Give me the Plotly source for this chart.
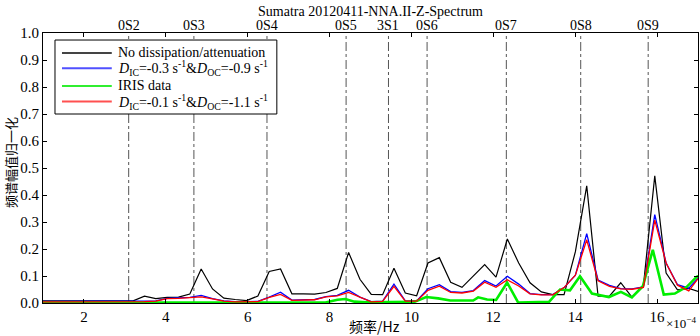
import plotly.graph_objects as go

# frequency grid of the synthetic spectra (x 1e-4 Hz)
freq = [0.986, 1.263, 1.540, 1.817, 2.094, 2.371, 2.648, 2.925, 3.202, 3.479,
        3.756, 4.033, 4.310, 4.587, 4.864, 5.141, 5.418, 5.695, 5.972, 6.249,
        6.526, 6.803, 7.080, 7.357, 7.634, 7.911, 8.188, 8.465, 8.742, 9.019,
        9.296, 9.573, 9.850, 10.127, 10.404, 10.681, 10.958, 11.235, 11.512, 11.789,
        12.066, 12.343, 12.620, 12.897, 13.174, 13.451, 13.728, 14.005, 14.282, 14.559,
        14.836, 15.113, 15.390, 15.667, 15.944, 16.221, 16.498, 16.775, 17.052]

no_dissipation = [0.008, 0.008, 0.008, 0.008, 0.008, 0.008, 0.008, 0.008, 0.008, 0.025,
                  0.016, 0.021, 0.022, 0.033, 0.126, 0.052, 0.018, 0.013, 0.009, 0.026,
                  0.117, 0.126, 0.034, 0.034, 0.033, 0.039, 0.054, 0.187, 0.088, 0.032,
                  0.031, 0.129, 0.037, 0.027, 0.148, 0.168, 0.077, 0.058, 0.100, 0.142,
                  0.096, 0.237, 0.148, 0.075, 0.041, 0.031, 0.031, 0.190, 0.434, 0.025,
                  0.025, 0.075, 0.021, 0.065, 0.471, 0.111, 0.049, 0.054, 0.040]

model_a = [0.006, 0.006, 0.006, 0.006, 0.006, 0.006, 0.006, 0.006, 0.006, 0.006,
           0.008, 0.017, 0.018, 0.021, 0.028, 0.016, 0.008, 0.005, 0.005, 0.006,
           0.022, 0.040, 0.011, 0.012, 0.013, 0.024, 0.028, 0.047, 0.022, 0.005,
           0.007, 0.070, 0.008, 0.008, 0.053, 0.068, 0.042, 0.039, 0.046, 0.083,
           0.063, 0.099, 0.070, 0.035, 0.031, 0.031, 0.057, 0.103, 0.257, 0.085,
           0.065, 0.053, 0.052, 0.060, 0.327, 0.148, 0.068, 0.055, 0.100]

model_b = [0.004, 0.004, 0.004, 0.004, 0.004, 0.004, 0.004, 0.004, 0.004, 0.005,
           0.007, 0.016, 0.017, 0.020, 0.023, 0.015, 0.007, 0.004, 0.004, 0.005,
           0.021, 0.032, 0.010, 0.011, 0.012, 0.023, 0.026, 0.039, 0.021, 0.004,
           0.006, 0.062, 0.007, 0.007, 0.047, 0.062, 0.039, 0.037, 0.044, 0.077,
           0.058, 0.086, 0.063, 0.034, 0.030, 0.030, 0.057, 0.103, 0.234, 0.082,
           0.062, 0.052, 0.051, 0.058, 0.307, 0.148, 0.066, 0.045, 0.100]

# IRIS observed spectrum (own sampling)
iris_freq = [0.976, 7.900, 8.192, 8.387, 8.606, 8.899, 10.069, 10.361, 10.654, 10.947,
             11.508, 11.630, 11.849, 12.068, 12.337, 12.605, 13.361, 13.629, 13.873, 14.117,
             14.409, 14.824, 15.116, 15.384, 15.652, 15.896, 16.164, 16.433, 16.725, 16.969,
             17.140]
iris_amp = [0.002, 0.002, 0.012, 0.015, 0.005, 0.003, 0.004, 0.022, 0.017, 0.009,
            0.009, 0.021, 0.013, 0.011, 0.076, 0.002, 0.004, 0.050, 0.047, 0.099,
            0.035, 0.022, 0.041, 0.021, 0.062, 0.197, 0.031, 0.035, 0.060, 0.097,
            0.110]

mode_names = ["0S2", "0S3", "0S4", "0S5", "3S1", "0S6", "0S7", "0S8", "0S9"]
mode_freq = [3.093, 4.686, 6.471, 8.404, 9.439, 10.382, 12.318, 14.135, 15.783]

x_ticks = [2, 4, 6, 8, 10, 12, 14, 16]
y_ticks = [0.0, 0.1, 0.2, 0.3, 0.4, 0.5, 0.6, 0.7, 0.8, 0.9, 1.0]

series_names = [
    "No dissipation/attenuation",
    "<i>D</i><sub>IC</sub>=-0.3 s<sup>-1</sup>&amp;<i>D</i><sub>OC</sub>=-0.9 s<sup>-1</sup>",
    "IRIS data",
    "<i>D</i><sub>IC</sub>=-0.1 s<sup>-1</sup>&amp;<i>D</i><sub>OC</sub>=-1.1 s<sup>-1</sup>",
]
series_colors = ["#000000", "#0000ff", "#00ee00", "#ff0000"]
series_widths = [1.2, 1.3, 2.6, 1.3]
legend_colors = ["#444444", "#5050ff", "#30ee30", "#ff5050"]

SERIF = "Liberation Serif, Times New Roman, serif"
CJK = "Noto Sans CJK SC"

fig = go.Figure()
xs = [freq, freq, iris_freq, freq]
ys = [no_dissipation, model_a, iris_amp, model_b]
for i in range(4):
    fig.add_trace(go.Scatter(x=xs[i], y=ys[i], mode="lines",
                             line=dict(color=series_colors[i], width=series_widths[i]),
                             name=series_names[i], showlegend=False))

for f, nm in zip(mode_freq, mode_names):
    fig.add_shape(type="line", xref="x", yref="paper", x0=f, x1=f, y0=0, y1=1,
                  line=dict(color="#555555", width=1, dash="dashdot"), layer="below")
    fig.add_annotation(text=nm, xref="x", yref="paper", x=f, y=1.028,
                       xanchor="center", yanchor="middle", showarrow=False,
                       font=dict(family=SERIF, size=14, color="black"))

# legend (drawn manually to match the reference box)
fig.add_shape(type="rect", xref="paper", yref="paper", x0=0.0183, x1=0.357,
              y0=0.700, y1=0.974, line=dict(color="black", width=1),
              fillcolor="white", layer="above")
row_y = [0.926, 0.869, 0.804, 0.746]
for i in range(4):
    fig.add_shape(type="line", xref="paper", yref="paper", x0=0.029, x1=0.105,
                  y0=row_y[i], y1=row_y[i],
                  line=dict(color=legend_colors[i], width=2), layer="above")
    fig.add_annotation(text=series_names[i], xref="paper", yref="paper",
                       x=0.113, y=row_y[i], xanchor="left", yanchor="middle",
                       showarrow=False, borderpad=0,
                       font=dict(family=SERIF, size=14, color="black"))

fig.update_layout(
    template="none",
    width=700, height=336,
    margin=dict(l=43, r=2, t=33, b=33, autoexpand=False),
    paper_bgcolor="white", plot_bgcolor="white",
    font=dict(family=SERIF, size=15, color="black"),
    showlegend=False,
    xaxis=dict(range=[1, 17], tickvals=x_ticks, ticktext=[str(v) for v in x_ticks],
               ticks="inside", ticklen=4, tickcolor="black", showline=True,
               linecolor="black", linewidth=1, mirror="ticks", showgrid=False,
               zeroline=False, automargin=False,
               tickfont=dict(family=SERIF, size=15)),
    yaxis=dict(range=[0, 1], tickvals=y_ticks, ticktext=[f"{v:.1f}" for v in y_ticks],
               ticks="inside", ticklen=4, tickcolor="black", showline=True,
               linecolor="black", linewidth=1, mirror="ticks", showgrid=False,
               zeroline=False, automargin=False,
               tickfont=dict(family=SERIF, size=15)),
)

fig.add_annotation(text="Sumatra 20120411-NNA.II-Z-Spectrum", xref="paper", yref="paper",
                   x=0.5, y=1.081, xanchor="center", yanchor="middle", showarrow=False,
                   font=dict(family=SERIF, size=14))
fig.add_annotation(text="频率/Hz", xref="paper", yref="paper", x=0.506, y=-0.087,
                   xanchor="center", yanchor="middle", showarrow=False,
                   font=dict(family=CJK, size=14))
fig.add_annotation(text="频谱幅值归一化", xref="paper", yref="paper", x=-0.0505, y=0.522,
                   xanchor="center", yanchor="middle", textangle=-90, showarrow=False,
                   borderpad=0, font=dict(family=CJK, size=13))
fig.add_annotation(text="×10<sup>−4</sup>", xref="paper", yref="paper", x=1.0, y=-0.074,
                   xanchor="right", yanchor="middle", showarrow=False,
                   font=dict(family=SERIF, size=13))

fig.write_html("out.html", config={"displayModeBar": False},
               post_script="document.body.style.margin='0px';document.body.style.overflow='hidden';")
